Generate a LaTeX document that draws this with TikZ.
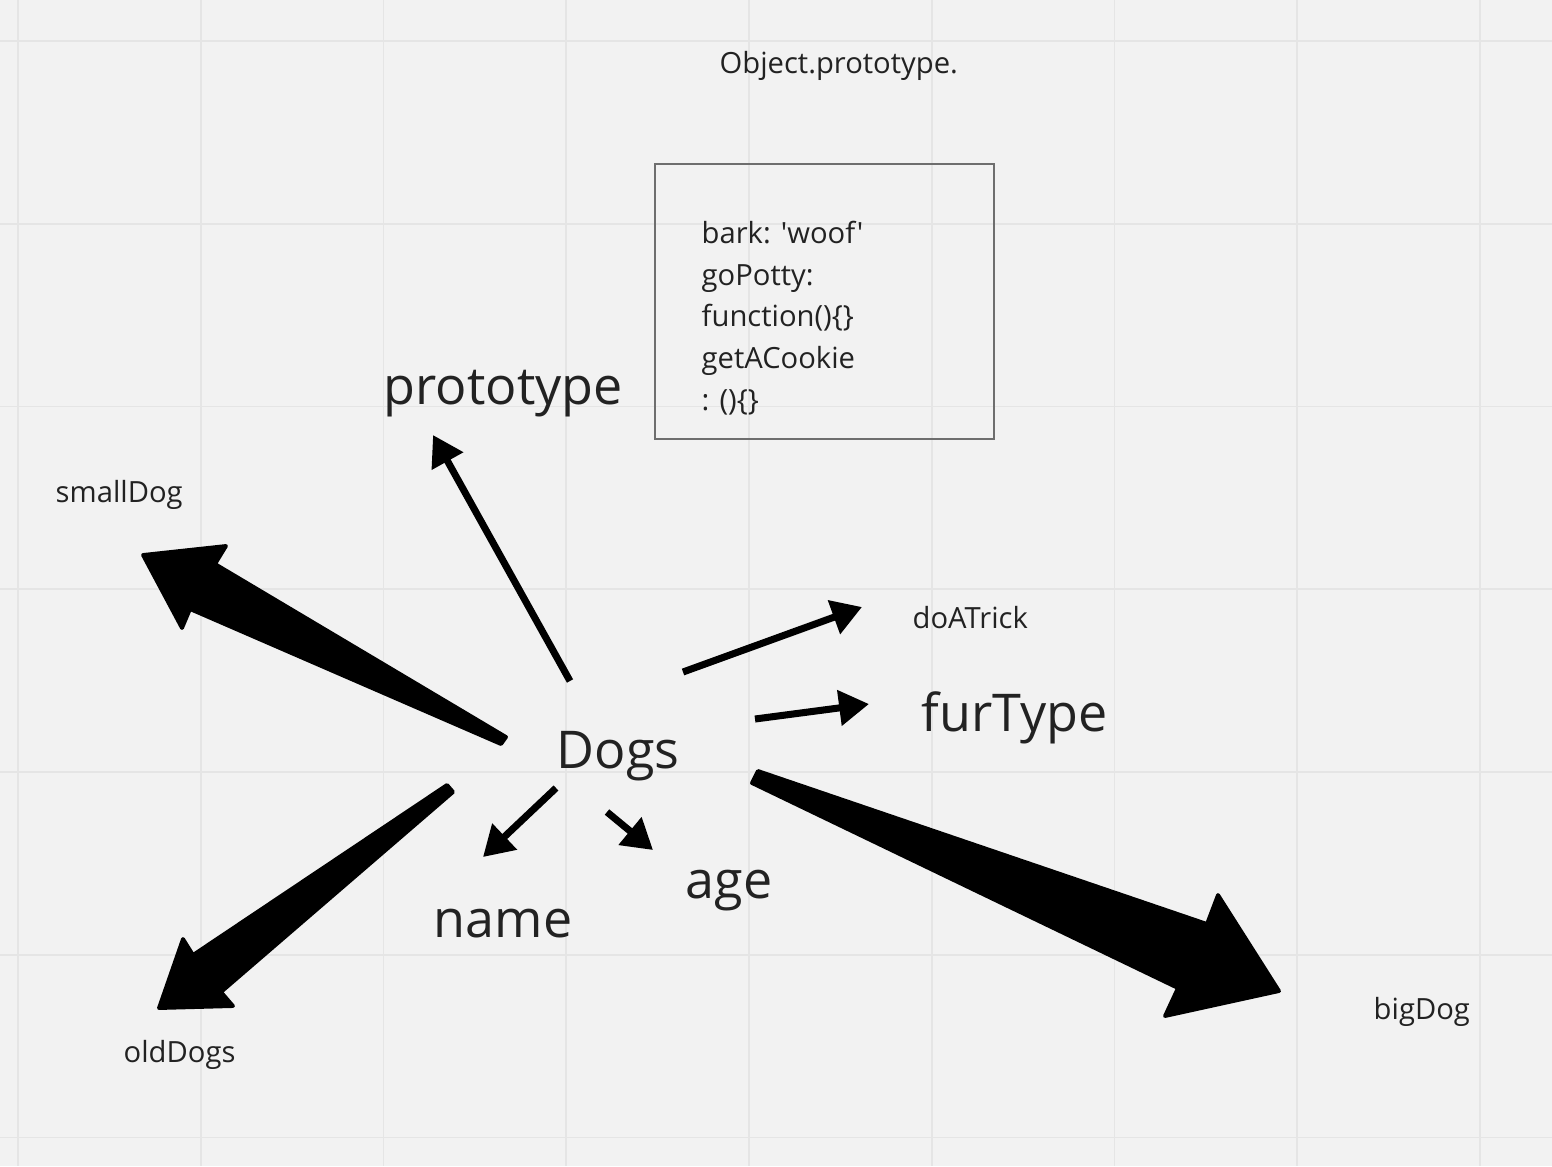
\documentclass[tikz,border=0pt]{standalone}
\usepackage{fontspec}
\setmainfont{Open Sans}[Ligatures=TeXOff]
\usetikzlibrary{arrows.meta}
\definecolor{boardbg}{RGB}{242,242,242}
\definecolor{boardgrid}{RGB}{229,229,229}
\definecolor{inkgray}{RGB}{34,34,34}
\definecolor{boxgray}{RGB}{110,110,110}
\newcommand{\smalltxt}{\fontsize{8.3pt}{10pt}\selectfont}
\newcommand{\bigtxt}{\fontsize{14.8pt}{18pt}\selectfont}
\tikzset{
  gridline/.style={draw=boardgrid, line width=0.55pt},
  smalllabel/.style={text=inkgray, font=\smalltxt, inner sep=0pt, anchor=base west},
  biglabel/.style={text=inkgray, font=\bigtxt, inner sep=0pt, anchor=base west},
  thinarrow/.style={line width=2pt, -{Triangle[length=8.5pt,width=9.8pt]}},
  fatarrow/.style={fill=black, draw=black, line width=1.1pt, line join=round},
  protobox/.style={draw=boxgray, line width=0.4pt, minimum width=3.39cm, minimum height=2.75cm, inner sep=0pt}
}

\begin{document}
\begin{tikzpicture}[x=0.01cm, y=-0.01cm]
			%%%%% BOARD %%%%%
			\useasboundingbox (0,0) rectangle (1552,1166);
			\fill[boardbg] (0,0) rectangle (1552,1166);
			\foreach \i in {0,...,8}
				\draw[gridline] (18+182.75*\i,0) -- (18+182.75*\i,1166);
			\foreach \i in {0,...,6}
				\draw[gridline] (0,41+182.75*\i) -- (1552,41+182.75*\i);
			
			%%%%% LABELS %%%%%
			\node[smalllabel] (objproto) at (719,73) {Object.prototype.};
			\node[protobox] (protobox) at (824.5,301.5) {};
			\node[smalllabel] (bark) at (701,243) {bark: 'woof'};
			\node[smalllabel] (gopotty) at (701,285) {goPotty:};
			\node[smalllabel] (func) at (701,326) {function()\{\}};
			\node[smalllabel] (cookie) at (701,368) {getACookie};
			\node[smalllabel] (cookiefn) at (701,410) {: ()\{\}};
			
			\node[biglabel] (prototype) at (383,404) {prototype};
			\node[smalllabel] (smalldog) at (55,502) {smallDog};
			\node[smalllabel] (doatrick) at (912,628) {doATrick};
			\node[biglabel] (furtype) at (921,731) {furType};
			\node[biglabel] (dogs) at (556,768) {Dogs};
			\node[biglabel] (age) at (685,898) {age};
			\node[biglabel] (name) at (433,937) {name};
			\node[smalllabel] (bigdog) at (1373,1019) {bigDog};
			\node[smalllabel] (olddogs) at (123,1062) {oldDogs};
			
			%%%%% THIN ARROWS %%%%%
			\coordinate (protoA) at (570,681);
			\coordinate (protoB) at (433,435);
			\coordinate (trickA) at (683,672);
			\coordinate (trickB) at (862,607);
			\coordinate (furA) at (755,719);
			\coordinate (furB) at (869,704);
			\coordinate (nameA) at (556,788);
			\coordinate (nameB) at (483,857);
			\coordinate (ageA) at (607,812);
			\coordinate (ageB) at (653,850);
			\draw[thinarrow] (protoA) -- (protoB);
			\draw[thinarrow] (trickA) -- (trickB);
			\draw[thinarrow] (furA) -- (furB);
			\draw[thinarrow] (nameA) -- (nameB);
			\draw[thinarrow] (ageA) -- (ageB);
			
			%%%%% FAT ARROWS %%%%%
			% smallDog
			\filldraw[fatarrow] (506,737) -- (215,564) -- (226,546) -- (143,555)
				-- (182,628) -- (190,609) -- (501,744) -- cycle;
			% oldDogs
			\filldraw[fatarrow] (447,785) -- (193,955) -- (183,939) -- (159,1008)
				-- (233,1006) -- (221,992) -- (453,792) -- cycle;
			% bigDog
			\filldraw[fatarrow] (758,771) -- (1207,924) -- (1218,895) -- (1279,991)
				-- (1165,1016) -- (1178,988) -- (752,783) -- cycle;
			
		\end{tikzpicture}
\end{document}
